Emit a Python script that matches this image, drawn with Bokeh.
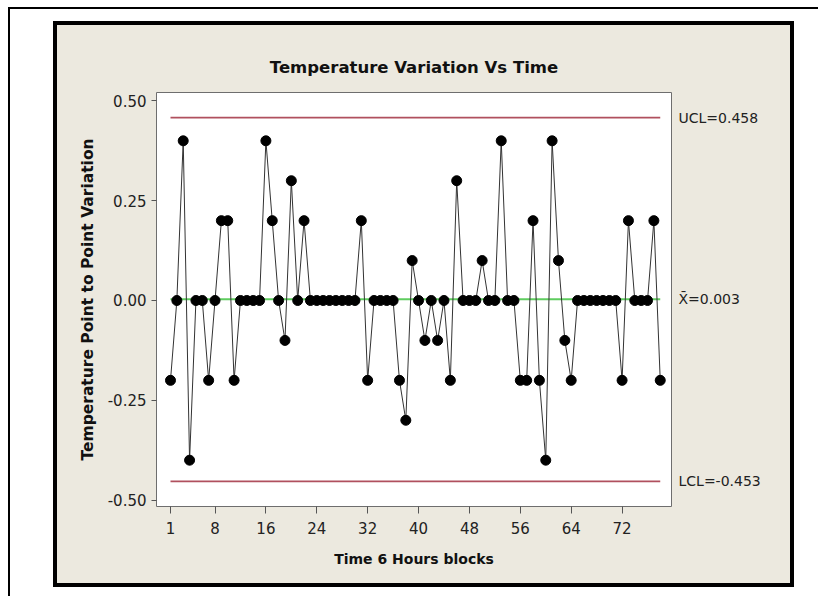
from bokeh.plotting import figure
from bokeh.models import FixedTicker, Range1d, LinearAxis
from bokeh.layouts import column
from bokeh.embed import file_html
from bokeh.resources import INLINE

# ---- data ----
variation = [-0.2, 0, 0.4, -0.4, 0, 0, -0.2, 0, 0.2, 0.2,
             -0.2, 0, 0, 0, 0, 0.4, 0.2, 0, -0.1, 0.3,
             0, 0.2, 0, 0, 0, 0, 0, 0, 0, 0,
             0.2, -0.2, 0, 0, 0, 0, -0.2, -0.3, 0.1, 0,
             -0.1, 0, -0.1, 0, -0.2, 0.3, 0, 0, 0, 0.1,
             0, 0, 0.4, 0, 0, -0.2, -0.2, 0.2, -0.2, -0.4,
             0.4, 0.1, -0.1, -0.2, 0, 0, 0, 0, 0, 0,
             0, -0.2, 0.2, 0, 0, 0, 0.2, -0.2]
time_block = list(range(1, len(variation) + 1))
x_ticks = [1, 8, 16, 24, 32, 40, 48, 56, 64, 72]
y_ticks = [-0.5, -0.25, 0.0, 0.25, 0.5]
y_tick_labels = ["-0.50", "-0.25", "0.00", "0.25", "0.50"]
ucl = 0.458
center = 0.003
lcl = -0.453
limit_labels = {ucl: "UCL=0.458", center: "X\u0304=0.003", lcl: "LCL=-0.453"}

# ---- layout (canvas pixels of the beige panel) ----
W, H = 733, 558
FL, FT, FW, FH = 99, 67, 515, 414
X0, X1 = -1.2, 79.77
Y0, Y1 = -0.516, 0.521
BEIGE = "#ECE9DF"
FONT = "DejaVu Sans"

p = figure(frame_width=FW, frame_height=FH,
           x_range=Range1d(X0, X1), y_range=Range1d(Y0, Y1),
           output_backend="svg", toolbar_location=None,
           min_border_left=FL, min_border_right=W - FL - FW,
           min_border_top=FT, min_border_bottom=H - FT - FH,
           border_fill_color=BEIGE, background_fill_color="white",
           title="Temperature Variation Vs Time")

p.title.align = "center"
p.title.text_font = FONT
p.title.text_font_size = "16.5px"
p.title.text_font_style = "bold"
p.title.text_color = "#111111"
p.title.standoff = 32

p.xgrid.visible = False
p.ygrid.visible = False
p.outline_line_color = "#6e6e6e"
p.outline_line_width = 1

# control lines
xs = [time_block[0], time_block[-1]]
p.line(xs, [ucl, ucl], line_color="#B0505E", line_width=1.6)
p.line(xs, [lcl, lcl], line_color="#B0505E", line_width=1.6)
p.line(xs, [center, center], line_color="#5FCC5F", line_width=2)

# data
p.line(time_block, variation, line_color="#333333", line_width=1)
p.scatter(time_block, variation, size=10, fill_color="black", line_color="black")

# axes
for ax in (p.xaxis, p.yaxis):
    ax.axis_line_color = None
    ax.major_tick_line_color = "#555555"
    ax.minor_tick_line_color = None
    ax.major_tick_in = 0
    ax.major_label_text_font = FONT
    ax.major_label_text_font_size = "15px"
    ax.major_label_text_color = "#222222"
    ax.axis_label_text_font = FONT
    ax.axis_label_text_font_style = "bold"
    ax.axis_label_text_color = "#111111"

p.xaxis.ticker = FixedTicker(ticks=x_ticks)
p.xaxis.major_tick_out = 7
p.xaxis.major_label_standoff = 8
p.xaxis.axis_label = "Time 6 Hours blocks"
p.xaxis.axis_label_text_font_size = "14px"
p.xaxis.axis_label_standoff = 14

p.yaxis.ticker = FixedTicker(ticks=y_ticks)
p.yaxis.major_label_overrides = {t: s for t, s in zip(y_ticks, y_tick_labels)}
p.yaxis.major_tick_out = 5
p.yaxis.major_label_standoff = 5
p.yaxis.axis_label = "Temperature Point to Point Variation"
p.yaxis.axis_label_text_font_size = "15.5px"
p.yaxis.axis_label_standoff = 8

# limit labels on the right as an axis without ticks
ra = LinearAxis(ticker=FixedTicker(ticks=list(limit_labels.keys())),
                major_label_overrides=dict(limit_labels))
ra.axis_line_color = None
ra.major_tick_line_color = None
ra.minor_tick_line_color = None
ra.major_tick_in = 0
ra.major_tick_out = 0
ra.major_label_standoff = 7
ra.major_label_text_font = FONT
ra.major_label_text_font_size = "14px"
ra.major_label_text_color = "#222222"
p.add_layout(ra, "right")

# thick black panel border, then the white page with a thin top/left rule
panel = column(p, styles={"border": "4px solid black", "background-color": BEIGE})
page = column(panel, styles={
    "margin-left": "8px", "margin-top": "7px",
    "border-top": "2px solid black", "border-left": "2px solid black",
    "padding-left": "43px", "padding-top": "12px",
    "padding-right": "24px", "padding-bottom": "9px",
    "background-color": "white",
})

open("out.html", "w").write(file_html(page, INLINE))
